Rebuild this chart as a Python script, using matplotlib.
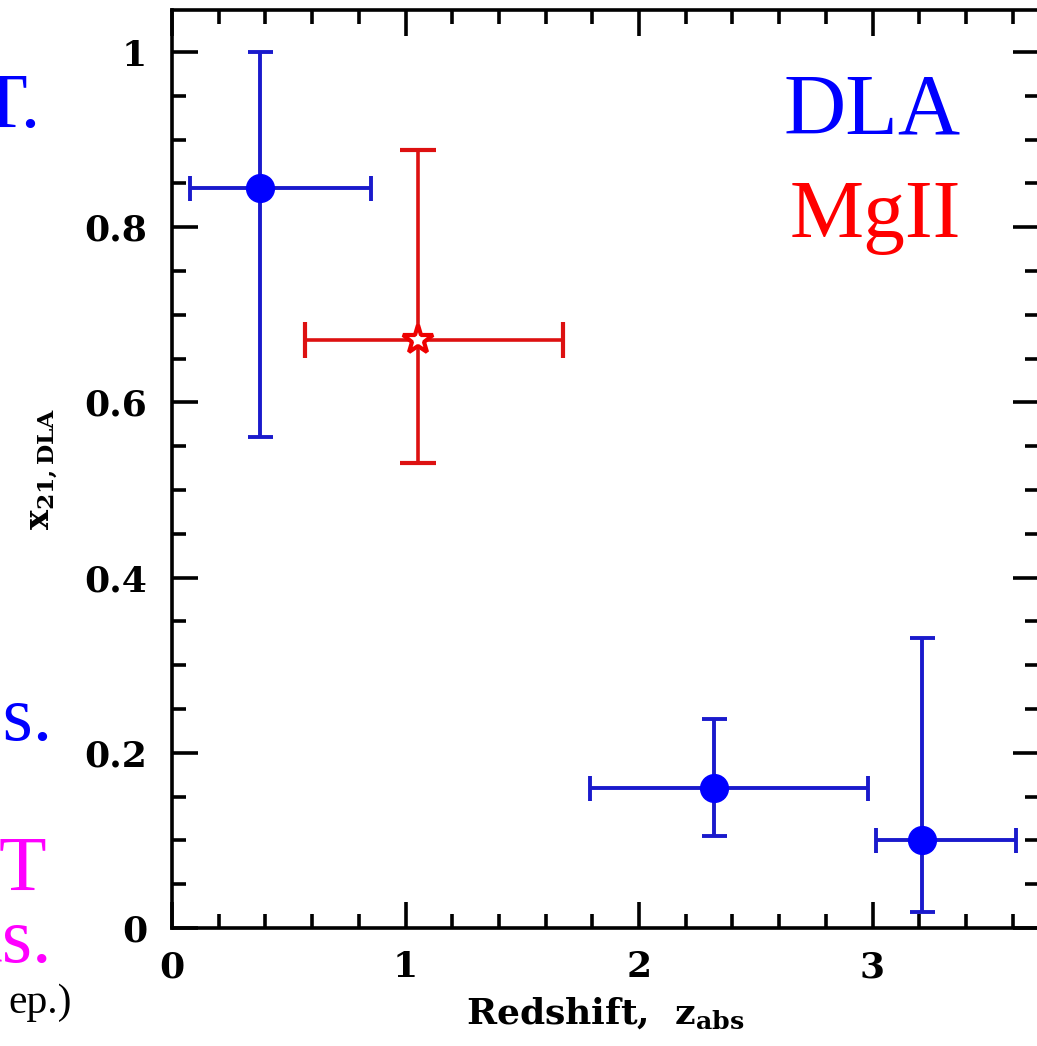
import matplotlib
matplotlib.use("Agg")
import matplotlib.pyplot as plt
from matplotlib.ticker import MultipleLocator

# data
dla_z = [0.377, 2.321, 3.212]
dla_x21 = [0.845, 0.160, 0.100]
dla_z_lo = [0.300, 0.531, 0.197]
dla_z_hi = [0.475, 0.659, 0.403]
dla_y_lo = [0.285, 0.055, 0.082]
dla_y_hi = [0.155, 0.079, 0.231]

mg_z = [1.053]
mg_x21 = [0.671]
mg_z_lo = [0.483]
mg_z_hi = [0.622]
mg_y_lo = [0.140]
mg_y_hi = [0.217]

# cut-off slide text on the left: (text, colour, x px, baseline px, size)
side_texts = [
    ("T.", "#0000ff", 41, 127, 56),
    ("es.", "#0000ff", 52, 740, 56),
    ("T", "magenta", 46, 890, 56),
    ("ns.", "magenta", 52, 962, 56),
    ("ep.)", "black", 72, 1013, 30),
]

W, H = 1037, 1046
plt.rcParams["mathtext.fontset"] = "dejavuserif"
fig = plt.figure(figsize=(W / 100, H / 100), dpi=100)
ax = fig.add_axes([172 / W, 118 / H, 867 / W, 918 / H])

ax.errorbar(dla_z, dla_x21, xerr=[dla_z_lo, dla_z_hi], yerr=[dla_y_lo, dla_y_hi],
            fmt="o", color="#1a1acc", mfc="#0000ff", mec="#0000ff", ms=20,
            elinewidth=2.8, capsize=9, capthick=2.8, zorder=3)
ax.errorbar(mg_z, mg_x21, xerr=[mg_z_lo, mg_z_hi], yerr=[mg_y_lo, mg_y_hi],
            fmt="*", color="#dd1111", mfc="white", mec="#ee0000", mew=3, ms=22,
            elinewidth=2.6, capsize=13, capthick=2.6, zorder=3)

ax.set_xlim(0, 3.713)
ax.set_ylim(0, 1.048)
ax.xaxis.set_minor_locator(MultipleLocator(0.2))
ax.yaxis.set_minor_locator(MultipleLocator(0.05))
ax.set_yticks([0, 0.2, 0.4, 0.6, 0.8, 1.0])
ax.set_yticklabels(["0", "0.2", "0.4", "0.6", "0.8", "1"])
ax.set_xticks([0, 1, 2, 3])
ax.set_xticklabels(["0", "1", "2", "3"])
ax.tick_params(which="both", direction="in", top=True, right=True, width=2.6)
ax.tick_params(which="major", length=19, labelsize=26, pad=16)
ax.tick_params(which="minor", length=10)
ax.tick_params(axis="y", which="major", pad=18)
for lab in ax.get_xticklabels() + ax.get_yticklabels():
    lab.set_fontfamily("DejaVu Serif")
    lab.set_fontweight("bold")
for sp in ax.spines.values():
    sp.set_linewidth(2.6)

ax.set_xlabel(r"Redshift,  $\mathbf{z_{abs}}$", fontsize=26, labelpad=8,
              family="DejaVu Serif", weight="bold")
ax.set_ylabel(r"$\mathbf{x_{21,DLA}}$", fontsize=24, labelpad=18)

ax.text(0.91, 0.888, "DLA", transform=ax.transAxes, ha="right", va="center",
        color="#0000ff", fontsize=62, family="Liberation Serif")
ax.text(0.91, 0.774, "MgII", transform=ax.transAxes, ha="right", va="center",
        color="#ff0000", fontsize=60, family="Liberation Serif")

for txt, col, xpx, ypx, size in side_texts:
    fig.text(xpx / W, 1 - ypx / H, txt, ha="right", va="baseline", color=col,
             fontsize=size, family="Liberation Serif")

fig.savefig("out.png", dpi=100)
